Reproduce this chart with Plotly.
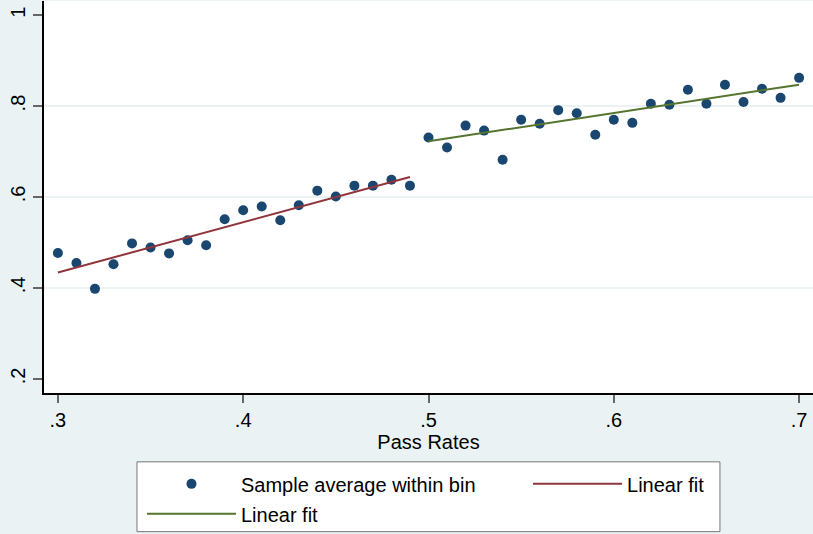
import plotly.graph_objects as go

# ---- data ----
pass_rates = [0.30, 0.31, 0.32, 0.33, 0.34, 0.35, 0.36, 0.37, 0.38, 0.39,
              0.40, 0.41, 0.42, 0.43, 0.44, 0.45, 0.46, 0.47, 0.48, 0.49,
              0.50, 0.51, 0.52, 0.53, 0.54, 0.55, 0.56, 0.57, 0.58, 0.59,
              0.60, 0.61, 0.62, 0.63, 0.64, 0.65, 0.66, 0.67, 0.68, 0.69, 0.70]
bin_avg = [0.477, 0.455, 0.398, 0.452, 0.498, 0.489, 0.476, 0.505, 0.494, 0.551,
           0.571, 0.579, 0.549, 0.582, 0.614, 0.601, 0.625, 0.625, 0.638, 0.625,
           0.731, 0.709, 0.757, 0.746, 0.682, 0.770, 0.761, 0.791, 0.784, 0.737,
           0.770, 0.763, 0.805, 0.803, 0.836, 0.805, 0.847, 0.809, 0.838, 0.818, 0.862]
fit_left_x = [0.30, 0.49]
fit_left_y = [0.434, 0.644]
fit_right_x = [0.50, 0.70]
fit_right_y = [0.7225, 0.847]
x_ticks = [0.3, 0.4, 0.5, 0.6, 0.7]
x_tick_labels = [".3", ".4", ".5", ".6", ".7"]
y_ticks = [0.2, 0.4, 0.6, 0.8, 1.0]
y_tick_labels = [".2", ".4", ".6", ".8", "1"]
grid_vals = [0.4, 0.6, 0.8]

NAVY = "#1a476f"
MAROON = "#90353b"
GREEN = "#55752f"
BG = "#eaf2f3"
FONT = "Liberation Sans, Arial, sans-serif"

fig = go.Figure()
fig.add_trace(go.Scatter(x=pass_rates, y=bin_avg, mode="markers",
                         marker=dict(color=NAVY, size=10),
                         name="Sample average within bin", legend="legend"))
fig.add_trace(go.Scatter(x=fit_left_x, y=fit_left_y, mode="lines",
                         line=dict(color=MAROON, width=2), name="Linear fit",
                         legend="legend2"))
fig.add_trace(go.Scatter(x=fit_right_x, y=fit_right_y, mode="lines",
                         line=dict(color=GREEN, width=2), name="Linear fit",
                         legend="legend3"))
# invisible trace carrying the grid-only axis
fig.add_trace(go.Scatter(x=[0.5], y=[0.5], mode="markers", marker=dict(opacity=0),
                         yaxis="y2", showlegend=False, hoverinfo="skip"))

leg_common = dict(xanchor="left", yanchor="top", bgcolor="rgba(0,0,0,0)",
                  borderwidth=0, itemwidth=89, font=dict(size=20, family=FONT))

fig.update_layout(
    width=813, height=534,
    paper_bgcolor=BG, plot_bgcolor="white",
    margin=dict(l=44, r=0, t=1, b=141),
    font=dict(family=FONT, size=20, color="black"),
    xaxis=dict(range=[0.2925, 0.7075], tickvals=x_ticks, ticktext=x_tick_labels,
               ticks="outside", ticklen=8, tickwidth=1.5, tickcolor="#666",
               showline=True, linecolor="black", linewidth=1.5,
               showgrid=False, zeroline=False,
               title=dict(text="Pass Rates", standoff=0,
                          font=dict(size=20, family=FONT, color="black")),
               tickfont=dict(size=20)),
    yaxis=dict(range=[0.169, 1.031], tickvals=y_ticks, ticktext=y_tick_labels,
               ticks="outside", ticklen=9, tickwidth=1.5, tickcolor="#666",
               showline=True, linecolor="black", linewidth=1.5,
               showgrid=False, zeroline=False, tickangle=-90,
               tickfont=dict(size=20)),
    yaxis2=dict(range=[0.169, 1.031], overlaying="y", tickvals=grid_vals,
                showticklabels=False, showgrid=True, gridcolor=BG, gridwidth=1.5,
                zeroline=False, showline=False, layer="below traces"),
    legend=dict(x=0.1274, y=-0.182, **leg_common),
    legend2=dict(x=0.6294, y=-0.182, **leg_common),
    legend3=dict(x=0.1274, y=-0.2583, **leg_common),
    shapes=[dict(type="rect", xref="paper", yref="paper",
                 x0=0.1209, x1=0.879, y0=-0.3537, y1=-0.1756,
                 fillcolor="white", line=dict(color="#777", width=1), layer="above")],
)
fig.write_html("out.html", config={"displayModeBar": False},
               post_script="document.body.style.margin='0';document.body.style.background='#eaf2f3';")
